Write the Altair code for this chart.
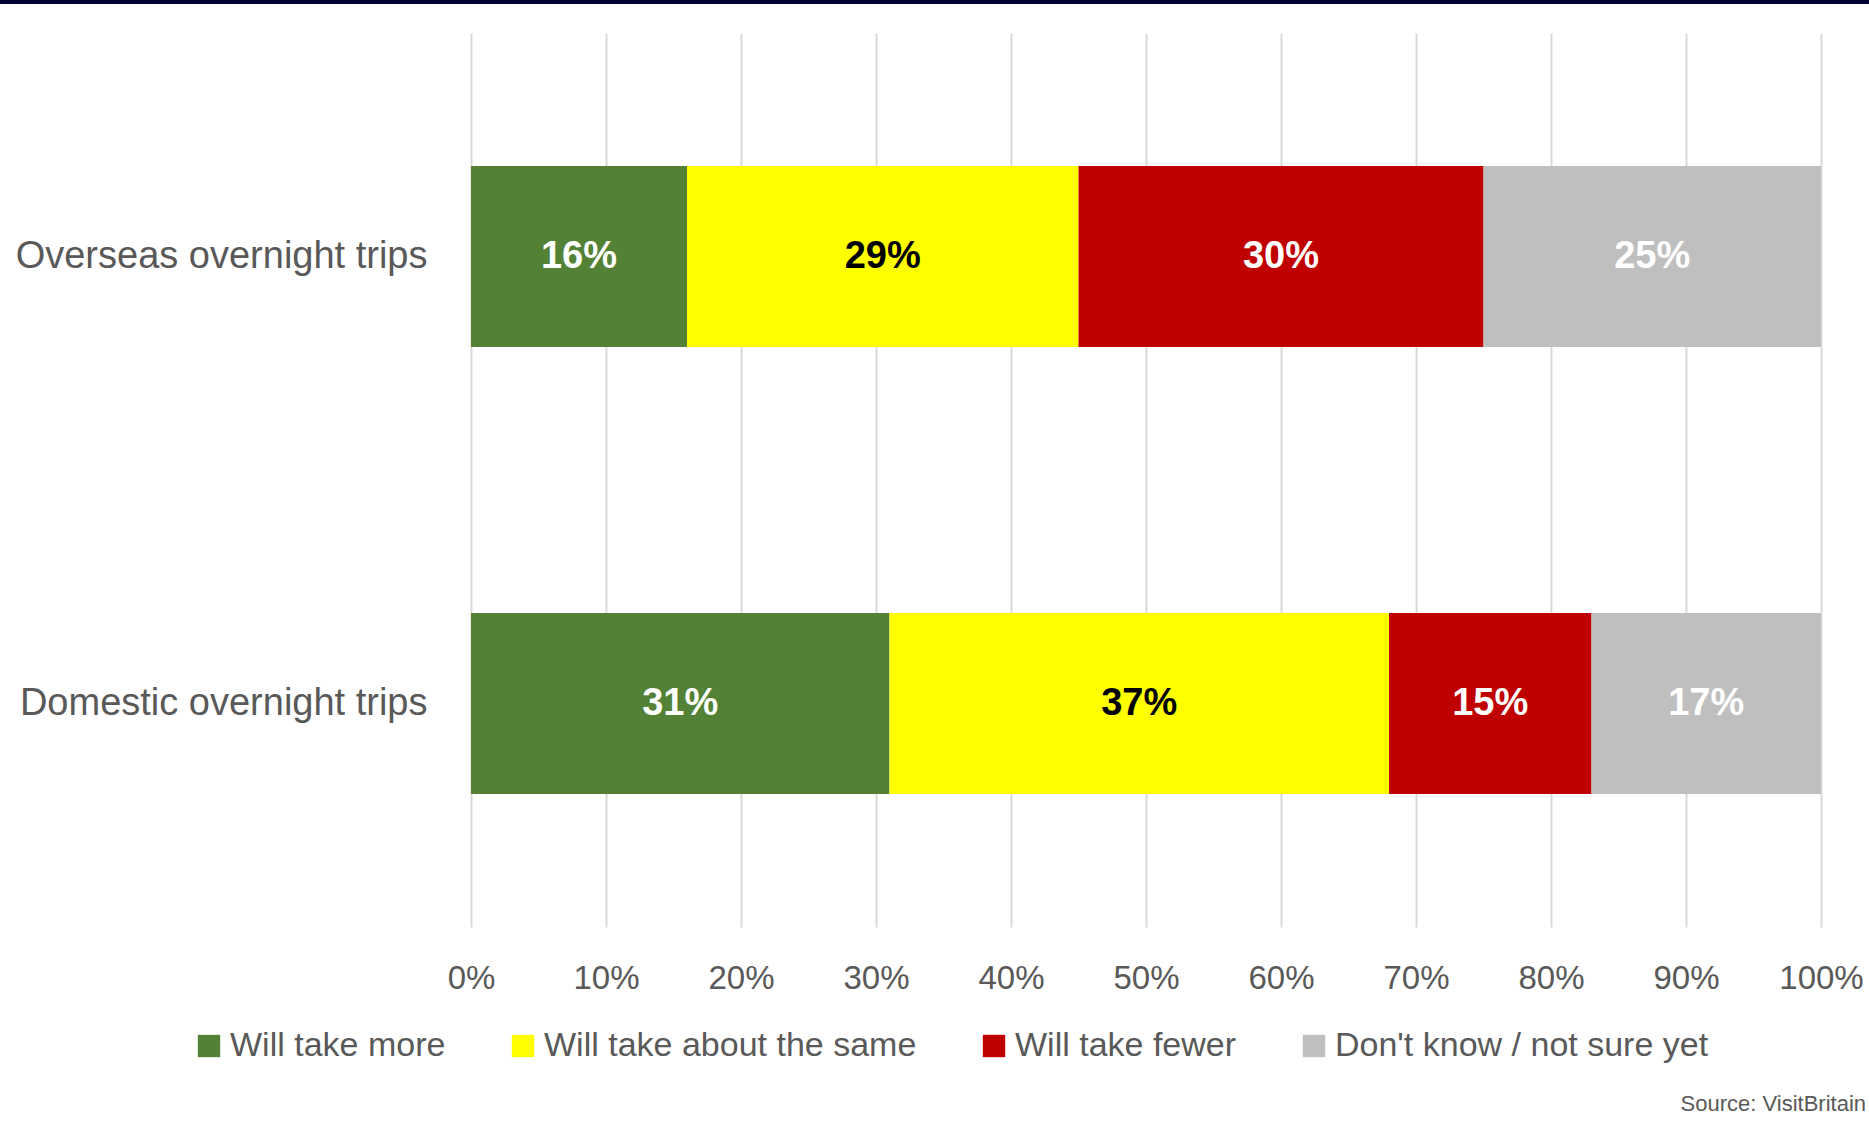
import altair as alt
import pandas as pd

categories = ["Overseas overnight trips", "Domestic overnight trips"]
responses = ["Will take more", "Will take about the same", "Will take fewer", "Don't know / not sure yet"]
overseas = [16, 29, 30, 25]
domestic = [31, 37, 15, 17]
colors = ["#538135", "#FFFF00", "#C00000", "#BFBFBF"]
label_colors = ["#FFFFFF", "#000000", "#FFFFFF", "#FFFFFF"]
x_ticks = [0, 10, 20, 30, 40, 50, 60, 70, 80, 90, 100]
source_text = "Source: VisitBritain"

FONT = "Liberation Sans, Arial, sans-serif"

rows = []
for cat, vals in zip(categories, [overseas, domestic]):
    cum = 0
    for i, (resp, v) in enumerate(zip(responses, vals)):
        rows.append({
            "category": cat, "response": resp, "value": v, "order": i,
            "start": cum, "end": cum + v, "mid": cum + v / 2,
            "label": f"{v}%", "tcolor": label_colors[i],
        })
        cum += v
df = pd.DataFrame(rows)

y_enc = alt.Y("category:N", sort=categories, title=None,
              scale=alt.Scale(paddingInner=0.595, paddingOuter=0.2975),
              axis=alt.Axis(ticks=False, domain=False, labelPadding=44,
                            labelFontSize=38, labelColor="#595959", labelFont=FONT,
                            labelLimit=1000, grid=False))

x_scale = alt.Scale(domain=[0, 100], nice=False)

bars = alt.Chart(df).mark_bar().encode(
    x=alt.X("start:Q", scale=x_scale, title=None,
            axis=alt.Axis(values=x_ticks, labelExpr="datum.value + '%'", ticks=False,
                          domain=False, grid=True, gridColor="#D9D9D9", gridWidth=2,
                          labelFontSize=33, labelColor="#595959", labelFont=FONT,
                          labelPadding=35, labelOverlap=False, labelFlush=False)),
    x2="end:Q",
    y=y_enc,
    color=alt.Color("response:N", sort=responses,
                    scale=alt.Scale(domain=responses, range=colors),
                    legend=alt.Legend(title=None, orient="none", legendX=-279, legendY=996,
                                      direction="horizontal", columns=4,
                                      symbolType="square", symbolSize=500,
                                      symbolStrokeWidth=0, labelFontSize=34,
                                      labelFont=FONT, labelColor="#595959",
                                      columnPadding=60, labelOffset=4, labelLimit=1000)),
    order=alt.Order("order:Q"),
)

texts = alt.Chart(df).mark_text(fontSize=38, fontWeight="bold", font=FONT).encode(
    x=alt.X("mid:Q", scale=x_scale),
    y=alt.Y("category:N", sort=categories),
    text="label:N",
    color=alt.Color("tcolor:N", scale=None),
)

source = alt.Chart(pd.DataFrame({"t": [source_text]})).mark_text(
    fontSize=22, font=FONT, color="#595959", align="right", baseline="middle"
).encode(x=alt.value(1395), y=alt.value(1071), text="t:N")

topband = alt.Chart(pd.DataFrame({"a": [0]})).mark_rule(
    color="#000030", strokeWidth=4
).encode(x=alt.value(-471), x2=alt.value(1398), y=alt.value(-31))

chart = alt.layer(bars, texts, source, topband).properties(
    width=1350, height=894,
    autosize=alt.AutoSizeParams(type="none"),
    padding={"left": 471, "top": 33, "right": 48, "bottom": 216},
    background="#FFFFFF",
).configure_view(stroke=None)

chart.save("out.html", embed_options={"renderer": "svg", "actions": False})
